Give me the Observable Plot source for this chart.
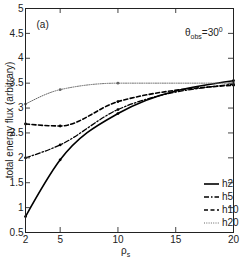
<!DOCTYPE html>
<html><head><meta charset="utf-8">
<script src="https://cdn.jsdelivr.net/npm/d3@7"></script>
<script src="https://cdn.jsdelivr.net/npm/@observablehq/plot@0.6"></script>
<style>
body{margin:0;background:#fff;}
#wrap{position:relative;width:240px;height:262px;font-family:"Liberation Sans Narrow","Liberation Sans",Arial,sans-serif;color:#222;}
.ann{position:absolute;font-size:10px;line-height:10px;white-space:nowrap;}
.ann sub{font-size:7px;vertical-align:-3px;line-height:0}
.ann sup{font-size:7px;vertical-align:4px;line-height:0}
#legend{position:absolute;left:204px;top:177px;font-size:10px;color:#222;}
#legend div{height:13px;display:flex;align-items:center;}
#legend svg{margin-right:3px}
</style></head>
<body><div id="wrap"></div>
<script>
const rho = [2, 5, 10, 20];
const h2 = [0.82, 1.96, 2.89, 3.55];
const h5 = [2.0, 2.26, 2.97, 3.48];
const h10 = [2.68, 2.64, 3.13, 3.46];
const h20 = [3.08, 3.37, 3.50, 3.50];
const seriesNames = ["h2", "h5", "h10", "h20"];
const xTicks = [2, 5, 10, 15, 20];
const yTicks = [0.5, 1, 1.5, 2, 2.5, 3, 3.5, 4, 4.5, 5];
const yLabel = "total energy flux (arbitrary)";

const styles = {
  h2: {stroke: "#000", strokeWidth: 1.6, dash: null},
  h5: {stroke: "#000", strokeWidth: 1.3, dash: "5,2,1.5,2"},
  h10: {stroke: "#000", strokeWidth: 1.6, dash: "4,2.5"},
  h20: {stroke: "#666", strokeWidth: 1, dash: "1,1.3"}
};
const values = {h2, h5, h10, h20};
const data = seriesNames.flatMap(s => rho.map((r, i) => ({s, x: r, y: values[s][i]})));

const W = 240, H = 262, mL = 25, mR = 7, mT = 8, mB = 30;
const fw = W - mL - mR, fh = H - mT - mB;
const FONT = '"Liberation Sans Narrow","Liberation Sans",Arial,sans-serif';

const marks = [];
for (const s of seriesNames) {
  const st = styles[s];
  marks.push(Plot.line(data.filter(d => d.s === s), {x: "x", y: "y", curve: "monotone-x",
    stroke: st.stroke, strokeWidth: st.strokeWidth, strokeDasharray: st.dash}));
  marks.push(Plot.dot(data.filter(d => d.s === s), {x: "x", y: "y", r: 1.4, fill: st.stroke, stroke: "none"}));
}
// inward ticks on all four sides
marks.push(Plot.tickX(xTicks, {x: d => d, insetTop: fh - 5, stroke: "#444"}));
marks.push(Plot.tickX(xTicks, {x: d => d, insetBottom: fh - 5, stroke: "#444"}));
marks.push(Plot.tickY(yTicks, {y: d => d, insetRight: fw - 5, stroke: "#444"}));
marks.push(Plot.tickY(yTicks, {y: d => d, insetLeft: fw - 5, stroke: "#444"}));
marks.push(Plot.frame({stroke: "#222", strokeWidth: 1}));
marks.push(Plot.axisX(xTicks, {tickSize: 0, tickPadding: 3, label: null, fontSize: 10, tickFormat: d => String(d)}));
marks.push(Plot.axisY(yTicks, {tickSize: 0, tickPadding: 2, label: null, fontSize: 10, tickFormat: d => String(d)}));
marks.push(Plot.text(["(a)"], {text: d => d, frameAnchor: "top-left", dx: 11, dy: 12, fontSize: 10, fill: "#222"}));

const chart = Plot.plot({
  width: W, height: H,
  marginLeft: mL, marginRight: mR, marginTop: mT, marginBottom: mB,
  x: {domain: [2, 20]},
  y: {domain: [0.5, 5]},
  style: {fontFamily: FONT, fontSize: "10px", color: "#222", background: "#fff"},
  marks
});
// rotated y-axis title placed in the left margin
d3.select(chart).append("text")
  .attr("transform", `translate(9,${mT + fh / 2}) rotate(-90)`)
  .attr("text-anchor", "middle")
  .attr("dominant-baseline", "central")
  .attr("font-size", 10)
  .attr("fill", "#222")
  .text(yLabel);

const wrap = document.getElementById("wrap");
wrap.appendChild(chart);

function ann(html, left, top) {
  const d = document.createElement("div");
  d.className = "ann"; d.innerHTML = html;
  d.style.left = left + "px"; d.style.top = top + "px";
  wrap.appendChild(d);
  return d;
}
ann("θ<sub>obs</sub>=30<sup>0</sup>", 185, 28);
ann("ρ<sub>s</sub>", 121, 246);

const leg = document.createElement("div");
leg.id = "legend";
for (const s of seriesNames) {
  const st = styles[s];
  const row = document.createElement("div");
  row.innerHTML = `<svg width="15" height="6"><line x1="0" x2="15" y1="3" y2="3" stroke="${st.stroke}" stroke-width="${st.strokeWidth}" ${st.dash ? `stroke-dasharray="${st.dash}"` : ""}/></svg><span>${s}</span>`;
  leg.appendChild(row);
}
wrap.appendChild(leg);
</script></body></html>
